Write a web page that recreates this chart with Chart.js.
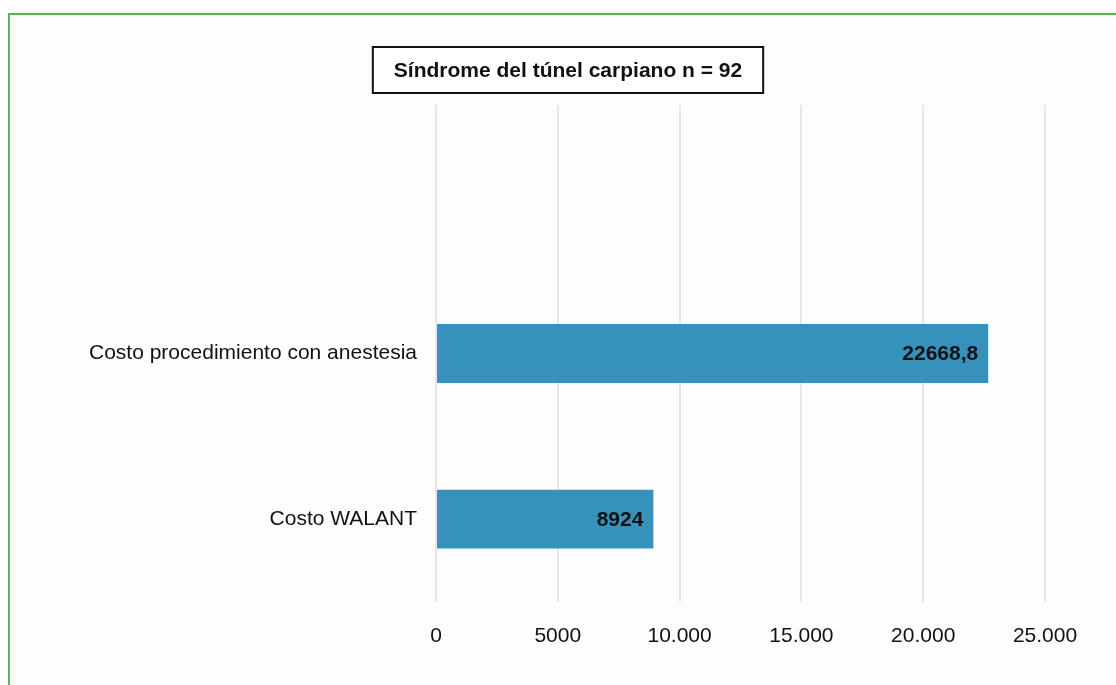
<!DOCTYPE html>
<html>
<head>
<meta charset="utf-8">
<script src="https://cdn.jsdelivr.net/npm/chart.js@4.4.1/dist/chart.umd.min.js"></script>
<style>
  html, body { margin: 0; padding: 0; background: #ffffff; overflow: hidden; }
  .frame {
    position: absolute; left: 8px; top: 13px; width: 1130px; height: 700px;
    border: 2px solid #5ab555; background: #fdfdfd;
  }
  #chart { position: absolute; left: 0; top: 0; }
</style>
</head>
<body>
<div class="frame"></div>
<canvas id="chart" width="1116" height="685"></canvas>
<script>
const chartTitle = 'Síndrome del túnel carpiano n = 92';
// first slot stays empty, the two costs sit in the lower two bands
const categories = ['', 'Costo procedimiento con anestesia', 'Costo WALANT'];
const costValues = [null, 22668.8, 8924];
const xTickLabels = ['0', '5000', '10.000', '15.000', '20.000', '25.000'];

const FONT = '"Liberation Sans", Arial, Helvetica, sans-serif';

const boxedTitle = {
  id: 'boxedTitle',
  afterDraw(chart, args, options) {
    const {ctx} = chart;
    ctx.save();
    ctx.font = 'bold 21px ' + FONT;
    ctx.textAlign = 'center';
    ctx.textBaseline = 'middle';
    const w = ctx.measureText(options.text).width + 42;
    ctx.fillStyle = '#ffffff';
    ctx.fillRect(options.x - w / 2, options.y - 23, w, 46);
    ctx.strokeStyle = '#111111';
    ctx.lineWidth = 2;
    ctx.strokeRect(options.x - w / 2, options.y - 23, w, 46);
    ctx.fillStyle = '#111111';
    ctx.fillText(options.text, options.x, options.y + 1);
    ctx.restore();
  }
};

const barValues = {
  id: 'barValues',
  afterDatasetsDraw(chart) {
    const {ctx} = chart;
    ctx.save();
    ctx.font = 'bold 21px ' + FONT;
    ctx.textAlign = 'right';
    ctx.textBaseline = 'middle';
    ctx.fillStyle = '#111111';
    chart.data.datasets.forEach((dataset, i) => {
      const meta = chart.getDatasetMeta(i);
      dataset.data.forEach((v, j) => {
        if (v === null) return;
        const bar = meta.data[j];
        ctx.fillText(String(v).replace('.', ','), bar.x - 10, bar.y + 1);
      });
    });
    ctx.restore();
  }
};

new Chart(document.getElementById('chart'), {
  type: 'bar',
  data: {
    labels: categories,
    datasets: [{
      data: costValues,
      backgroundColor: '#3692bb',
      borderWidth: 0,
      barPercentage: 0.355,
      categoryPercentage: 1
    }]
  },
  options: {
    indexAxis: 'y',
    responsive: false,
    animation: false,
    layout: {
      padding: {left: 0, right: 71, top: 105, bottom: 0}
    },
    scales: {
      x: {
        min: 0,
        max: 25000,
        afterFit(scale) { scale.height = 83; },
        afterBuildTicks(scale) {
          scale.ticks = xTickLabels.map((_, i) => ({value: i * 5000}));
        },
        border: {display: false},
        grid: {color: '#e7e7e7', lineWidth: 2, drawTicks: false},
        ticks: {
          padding: 22,
          color: '#111111',
          font: {family: FONT, size: 21},
          callback: (value, index) => xTickLabels[index]
        }
      },
      y: {
        afterFit(scale) { scale.width = 436; },
        border: {display: false},
        grid: {display: false, drawTicks: false},
        ticks: {
          padding: 19,
          color: '#111111',
          font: {family: FONT, size: 21}
        }
      }
    },
    plugins: {
      legend: {display: false},
      tooltip: {enabled: false},
      boxedTitle: {text: chartTitle, x: 568, y: 70}
    }
  },
  plugins: [barValues, boxedTitle]
});
</script>
</body>
</html>
